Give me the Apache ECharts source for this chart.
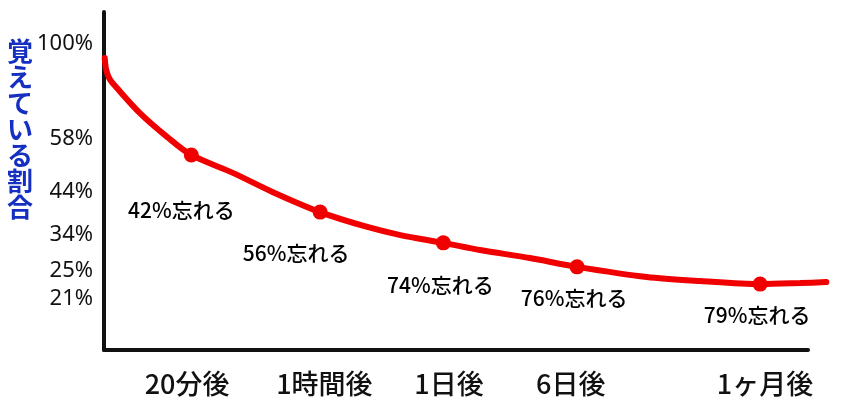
<!DOCTYPE html>
<html>
<head>
<meta charset="utf-8">
<script src="https://cdn.jsdelivr.net/npm/echarts@6/dist/echarts.min.js"></script>
<style>
  html, body { margin: 0; padding: 0; background: #fff; }
  #chart { width: 850px; height: 416px; }
</style>
</head>
<body>
<div id="chart"></div>
<script>
// 横軸の目盛り（位置は 0〜100 のスケール）
const xTickPos = [11.8, 31.3, 49.0, 66.3, 93.9];
const xTickLabels = ['20分後', '1時間後', '1日後', '6日後', '1ヶ月後'];

// 縦軸の目盛り（模式図なので不等間隔）
const yTickPos = [90.5, 62.4, 46.7, 34.0, 23.4, 15.1];
const yTickLabels = ['100%', '58%', '44%', '34%', '25%', '21%'];

// 忘却曲線のなぞり点（横軸の終わりより少し先まで伸びる）
const curveX = [0.1, 0.3, 0.8, 1.8, 5.1, 9.0, 12.4, 18.3, 24.0, 30.7, 37.4, 42.1, 48.2, 53.4, 60.5, 67.2, 77.1, 84.7, 93.2, 98.9, 102.6];
const curveY = [86.4, 83.0, 80.2, 77.6, 70.1, 63.0, 57.7, 52.4, 46.7, 40.8, 36.4, 34.0, 31.7, 29.6, 27.2, 24.6, 21.6, 20.4, 19.5, 19.8, 20.1];
const curveXMax = 102.6;

// 各時点のマーカー
const pointX = [12.4, 30.7, 48.2, 67.2, 93.2];
const pointY = [57.7, 40.8, 31.7, 24.6, 19.5];
const forgetLabels = ['42%忘れる', '56%忘れる', '74%忘れる', '76%忘れる', '79%忘れる'];
const labelOffsets = [[-10, 55], [-24, 41], [-3, 42], [-3, 31], [-3, 31]];

const chart = echarts.init(document.getElementById('chart'));

// 軸用の grid と、曲線用の grid（同じ縮尺で右に少し広い）
const axisRight = 42;
const plotW = 850 - 104 - axisRight;
const curveRight = 850 - 104 - plotW * curveXMax / 100;

const hiddenAxis = {
  show: false, type: 'value', min: 0
};

const option = {
  animation: false,
  grid: [
    { left: 104, right: axisRight, top: 12, bottom: 66 },
    { left: 104, right: curveRight, top: 12, bottom: 66 }
  ],
  xAxis: [{
    type: 'value',
    gridIndex: 0,
    min: 0,
    max: 100,
    axisLine: { show: true, lineStyle: { color: '#111', width: 4, cap: 'round' } },
    axisTick: { show: false },
    splitLine: { show: false },
    axisLabel: {
      customValues: xTickPos,
      formatter: v => xTickLabels[xTickPos.indexOf(v)] || '',
      margin: 20,
      fontFamily: 'Noto Sans CJK JP',
      fontSize: 27,
      fontWeight: 500,
      color: '#111'
    }
  }, Object.assign({}, hiddenAxis, { gridIndex: 1, max: curveXMax })],
  yAxis: [{
    type: 'value',
    gridIndex: 0,
    min: 0,
    max: 100,
    axisLine: { show: true, lineStyle: { color: '#111', width: 4, cap: 'round' } },
    axisTick: { show: false },
    splitLine: { show: false },
    axisLabel: {
      customValues: yTickPos,
      formatter: v => yTickLabels[yTickPos.indexOf(v)] || '',
      margin: 11,
      fontFamily: 'Noto Sans',
      fontSize: 22,
      color: '#111'
    }
  }, Object.assign({}, hiddenAxis, { gridIndex: 1, max: 100 })],
  graphic: [{
    type: 'text',
    left: 7,
    top: 38,
    style: {
      text: '覚えている割合'.split('').join('\n'),
      font: 'bold 26px "Noto Sans CJK JP"',
      lineHeight: 26,
      fill: '#1530c0'
    }
  }],
  series: [
    {
      type: 'line',
      xAxisIndex: 1,
      yAxisIndex: 1,
      data: curveX.map((x, i) => [x, curveY[i]]),
      smooth: 0.3,
      symbol: 'none',
      lineStyle: { color: '#f00000', width: 6, cap: 'round' },
      z: 2
    },
    {
      type: 'scatter',
      xAxisIndex: 0,
      yAxisIndex: 0,
      data: pointX.map((x, i) => ({
        value: [x, pointY[i]],
        label: { offset: labelOffsets[i] }
      })),
      symbolSize: 15,
      itemStyle: { color: '#f00000', opacity: 1 },
      label: {
        show: true,
        position: 'inside',
        formatter: p => forgetLabels[p.dataIndex],
        fontFamily: 'Noto Sans CJK JP',
        fontSize: 21,
        fontWeight: 500,
        color: '#000'
      },
      z: 3
    }
  ]
};

chart.setOption(option);
</script>
</body>
</html>
